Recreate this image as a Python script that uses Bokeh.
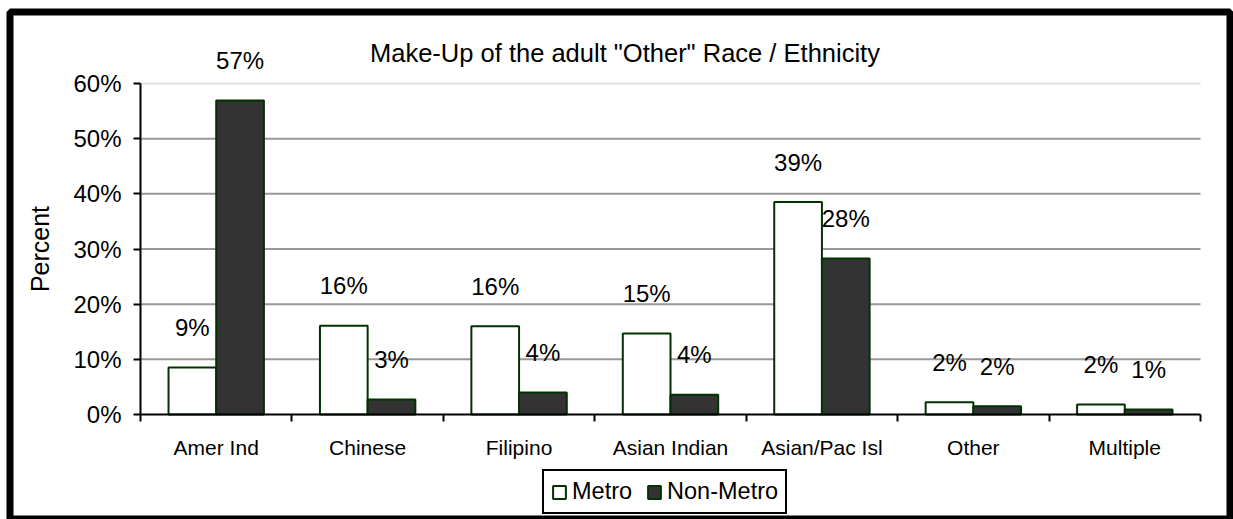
from bokeh.plotting import figure
from bokeh.models import (Range1d, FixedTicker, LinearAxis, ColumnDataSource, LabelSet, Label,
                          Legend, LegendItem, BoxAnnotation)
from bokeh.core.properties import value
from bokeh.embed import file_html
from bokeh.resources import INLINE

categories = ["Amer Ind", "Chinese", "Filipino", "Asian Indian", "Asian/Pac Isl", "Other", "Multiple"]
metro = [8.5, 16.1, 16.0, 14.7, 38.5, 2.2, 1.8]
non_metro = [56.9, 2.7, 4.0, 3.6, 28.3, 1.5, 0.9]
metro_labels = ["9%", "16%", "16%", "15%", "39%", "2%", "2%"]
non_metro_labels = ["57%", "3%", "4%", "4%", "28%", "2%", "1%"]
y_ticks = [0, 10, 20, 30, 40, 50, 60]
title_text = 'Make-Up of the adult  "Other" Race / Ethnicity'

FONT = "Liberation Sans"
BAR_W = 0.315
W, H = 1233, 519
# plot area in page pixels
PX0, PX1, PY0, PY1 = 140, 1200, 83, 414
n = len(categories)
ymax = y_ticks[-1]
sx = (PX1 - PX0) / n
sy = (PY1 - PY0) / ymax

centers = [i + 0.5 for i in range(n)]
src_m = ColumnDataSource(dict(x=[c - BAR_W / 2 for c in centers], top=metro, lab=metro_labels))
src_n = ColumnDataSource(dict(x=[c + BAR_W / 2 for c in centers], top=non_metro, lab=non_metro_labels))

p = figure(width=W, height=H,
           x_range=Range1d(-PX0 / sx, n + (W - PX1) / sx),
           y_range=Range1d(-(H - PY1) / sy, ymax + PY0 / sy),
           output_backend="svg", toolbar_location=None,
           min_border=0, x_axis_type=None, y_axis_type=None)
p.outline_line_color = None
p.background_fill_color = "white"
p.border_fill_color = "white"
p.xgrid.visible = False
p.ygrid.visible = False

# gridlines
grid_src = ColumnDataSource(dict(y=y_ticks[1:-1]))
p.segment(x0=0, x1=n, y0="y", y1="y", source=grid_src, line_color="#999999", line_width=2)
p.segment(x0=0, x1=n, y0=ymax, y1=ymax, line_color="#e2e2e2", line_width=2)

# y axis
yaxis = LinearAxis(ticker=FixedTicker(ticks=y_ticks, minor_ticks=[]), fixed_location=0,
                   bounds=(0, ymax))
yaxis.major_label_overrides = {t: f"{t}%" for t in y_ticks}
yaxis.axis_label = "Percent"
yaxis.axis_label_text_font = FONT
yaxis.axis_label_text_font_size = "25px"
yaxis.axis_label_text_font_style = "normal"
yaxis.axis_label_text_color = "black"
yaxis.axis_label_standoff = 16
yaxis.major_label_text_font = FONT
yaxis.major_label_text_font_size = "24px"
yaxis.major_label_text_color = "black"
yaxis.major_label_standoff = 12
yaxis.axis_line_color = "black"
yaxis.axis_line_width = 2
yaxis.major_tick_line_color = "black"
yaxis.major_tick_line_width = 2
yaxis.major_tick_out = 7
yaxis.major_tick_in = 0
yaxis.minor_tick_line_color = None
p.add_layout(yaxis, "left")

# x axis: labels at category centres, ticks at category boundaries
xaxis = LinearAxis(ticker=FixedTicker(ticks=centers, minor_ticks=list(range(n + 1))),
                   fixed_location=0, bounds=(0, n))
xaxis.major_label_overrides = {c: name for c, name in zip(centers, categories)}
xaxis.major_label_text_font = FONT
xaxis.major_label_text_font_size = "21px"
xaxis.major_label_text_color = "black"
xaxis.major_label_standoff = 14
xaxis.major_tick_line_color = None
xaxis.major_tick_out = 7
xaxis.minor_tick_line_color = "black"
xaxis.minor_tick_line_width = 2
xaxis.minor_tick_out = 7
xaxis.minor_tick_in = 0
xaxis.axis_line_color = "black"
xaxis.axis_line_width = 2
p.add_layout(xaxis, "below")

# bars
r_m = p.vbar(x="x", top="top", width=BAR_W, bottom=0, source=src_m,
             fill_color="white", line_color="#003300", line_width=2)
r_n = p.vbar(x="x", top="top", width=BAR_W, bottom=0, source=src_n,
             fill_color="#333333", line_color="#003300", line_width=2)

for s in (src_m, src_n):
    p.add_layout(LabelSet(x="x", y="top", text="lab", source=s, y_offset=40,
                          text_align="center", text_baseline="middle",
                          text_font=value(FONT), text_font_size=value("24px"),
                          text_color="black"))

# title
p.add_layout(Label(x=628, y=H - 52, x_units="screen", y_units="screen", text=title_text,
                   text_align="center", text_baseline="middle", text_font=FONT,
                   text_font_size="25.5px", text_color="black"))

legend = Legend(items=[LegendItem(label="Metro", renderers=[r_m]),
                       LegendItem(label="Non-Metro", renderers=[r_n])],
                orientation="horizontal", location=(542, H - 514))
legend.label_text_font = FONT
legend.label_text_font_size = "23.5px"
legend.label_text_color = "black"
legend.glyph_width = 16
legend.glyph_height = 16
legend.label_standoff = 5
legend.spacing = 14
legend.padding = 7
legend.margin = 0
legend.border_line_color = "black"
legend.border_line_alpha = 1.0
legend.border_line_width = 2
p.add_layout(legend)

# outer chart border
p.add_layout(BoxAnnotation(left=9.5, right=1229.5, top=H - 11.5, bottom=H - 518.5,
                           left_units="screen", right_units="screen",
                           top_units="screen", bottom_units="screen",
                           fill_color=None, fill_alpha=0, line_color="black",
                           line_alpha=1.0, line_width=7, level="overlay"))

open("out.html", "w").write(file_html(p, INLINE))
